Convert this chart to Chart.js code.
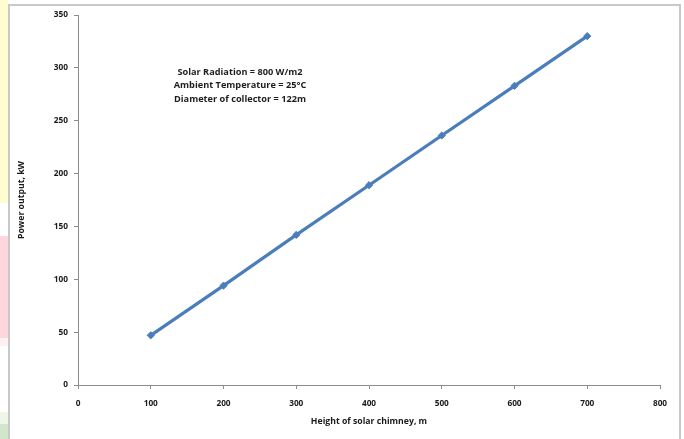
<!DOCTYPE html>
<html>
<head>
<meta charset="utf-8">
<script src="https://cdn.jsdelivr.net/npm/chart.js@4/dist/chart.umd.min.js"></script>
<style>
  html, body { margin: 0; padding: 0; background: #ffffff; }
  #wrap { width: 684px; height: 439px; position: relative; }
</style>
</head>
<body>
<div id="wrap"><canvas id="chart" width="684" height="439"></canvas></div>
<script>
// Chimney heights (m) and the resulting power output (kW)
const chimneyHeights = [100, 200, 300, 400, 500, 600, 700];
const powerOutput = [47, 94, 142, 189, 236, 283, 330];

// Axis ranges and titles
const xTicks = [0, 100, 200, 300, 400, 500, 600, 700, 800];
const yTicks = [0, 50, 100, 150, 200, 250, 300, 350];
const xTitle = 'Height of solar chimney, m';
const yTitle = 'Power output, kW';

// Operating conditions shown inside the plot
const conditions = [
  'Solar Radiation = 800 W/m2',
  'Ambient Temperature = 25\u00B0C',
  'Diameter of collector = 122m'
];

const FONT = '"Open Sans", "Liberation Sans", sans-serif';
const AXIS_GREY = '#8c8c8c';
const LINE_BLUE = '#4A7EBB';

// Page backdrop: coloured strip at the left edge and the chart frame
const backdrop = {
  id: 'backdrop',
  beforeDraw(chart) {
    const ctx = chart.ctx;
    ctx.save();
    ctx.fillStyle = '#ffffff';
    ctx.fillRect(0, 0, chart.width, chart.height);
    ctx.fillStyle = '#fffdd0';
    ctx.fillRect(0, 0, 8, 203);
    ctx.fillStyle = '#ffd6de';
    ctx.fillRect(0, 236, 8, 108);
    ctx.fillStyle = '#fff0f2';
    ctx.fillRect(0, 338, 8, 8);
    ctx.fillStyle = '#eef6ea';
    ctx.fillRect(0, 412, 8, 12);
    ctx.fillStyle = '#d2e6cc';
    ctx.fillRect(0, 424, 8, 15);
    // frame
    ctx.strokeStyle = '#c9c9c9';
    ctx.lineWidth = 2;
    ctx.beginPath();
    ctx.moveTo(9, 440);
    ctx.lineTo(9, 5);
    ctx.lineTo(680, 5);
    ctx.lineTo(680, 440);
    ctx.stroke();
    ctx.restore();
  },
  afterDraw(chart) {
    const ctx = chart.ctx;
    const area = chart.chartArea;
    ctx.save();
    ctx.fillStyle = '#1e1e1e';
    ctx.font = 'bold 9.2px ' + FONT;
    ctx.textAlign = 'center';
    ctx.textBaseline = 'middle';
    const cx = area.left + 162;
    conditions.forEach((t, i) => ctx.fillText(t, cx, area.top + 57 + i * 13.5));
    ctx.restore();
  }
};

new Chart(document.getElementById('chart'), {
  type: 'line',
  data: {
    datasets: [{
      data: chimneyHeights.map((h, i) => ({ x: h, y: powerOutput[i] })),
      borderColor: LINE_BLUE,
      backgroundColor: LINE_BLUE,
      borderWidth: 3.2,
      pointStyle: 'rectRot',
      pointRadius: 3.6,
      pointBorderWidth: 1,
      pointBorderColor: LINE_BLUE,
      pointBackgroundColor: LINE_BLUE,
      tension: 0,
      fill: false
    }]
  },
  plugins: [backdrop],
  options: {
    responsive: false,
    animation: false,
    devicePixelRatio: 1,
    layout: { padding: { left: 0, top: 15, right: 24, bottom: 0 } },
    plugins: {
      legend: { display: false },
      tooltip: { enabled: false },
      title: { display: false }
    },
    scales: {
      x: {
        type: 'linear',
        min: xTicks[0],
        max: xTicks[xTicks.length - 1],
        afterBuildTicks(scale) { scale.ticks = xTicks.map(v => ({ value: v })); },
        afterFit(scale) { scale.height = 54; },
        border: { display: true, color: AXIS_GREY, width: 1 },
        grid: { drawOnChartArea: false, drawTicks: true, tickLength: 4, color: AXIS_GREY },
        ticks: {
          padding: 10,
          maxRotation: 0,
          color: '#1a1a1a',
          font: { family: FONT, size: 8.3, weight: 'bold' }
        },
        title: {
          display: true,
          text: xTitle,
          color: '#1a1a1a',
          padding: { top: 0, bottom: 12 },
          font: { family: FONT, size: 8.7, weight: 'bold' }
        }
      },
      y: {
        type: 'linear',
        min: yTicks[0],
        max: yTicks[yTicks.length - 1],
        afterBuildTicks(scale) { scale.ticks = yTicks.map(v => ({ value: v })); },
        afterFit(scale) { scale.width = 78; },
        border: { display: true, color: AXIS_GREY, width: 1 },
        grid: { drawOnChartArea: false, drawTicks: true, tickLength: 4, color: AXIS_GREY },
        ticks: {
          padding: 6,
          color: '#1a1a1a',
          font: { family: FONT, size: 8.3, weight: 'bold' }
        },
        title: {
          display: true,
          text: yTitle,
          color: '#1a1a1a',
          padding: { top: 16, bottom: 0 },
          font: { family: FONT, size: 8.7, weight: 'bold' }
        }
      }
    }
  }
});
</script>
</body>
</html>
